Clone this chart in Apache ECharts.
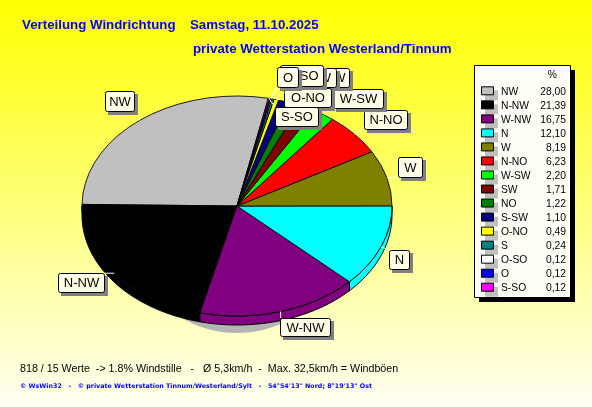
<!DOCTYPE html>
<html><head><meta charset="utf-8">
<style>html,body{margin:0;padding:0;background:#fff}#c{width:592px;height:407px}</style>
<script src="https://cdn.jsdelivr.net/npm/echarts@6/dist/echarts.min.js"></script>
</head><body><div id="c"></div>
<script>
const directions = ['NW','N-NW','W-NW','N','W','N-NO','W-SW','SW','NO','S-SW','O-NO','S','O-SO','O','S-SO'];
const shares = [28.00,21.39,16.75,12.10,8.19,6.23,2.20,1.71,1.22,1.10,0.49,0.24,0.12,0.12,0.12];
const shareLabels = ['28,00','21,39','16,75','12,10','8,19','6,23','2,20','1,71','1,22','1,10','0,49','0,24','0,12','0,12','0,12'];
const sliceColors = ['#C0C0C0','#000000','#800080','#00FFFF','#808000','#FF0000','#00FF00','#800000','#008000','#000080','#FFFF00','#008080','#FFFFFF','#0000FF','#FF00FF'];
const titleLine1 = 'Verteilung Windrichtung';
const titleDate = 'Samstag, 11.10.2025';
const titleLine2 = 'private Wetterstation Westerland/Tinnum';
const statsLine = '818 / 15 Werte  -> 1.8% Windstille   -   Ø 5,3km/h  -  Max. 32,5km/h = Windböen';
const footerLine = '© WsWin32   -   © private Wetterstation Tinnum/Westerland/Sylt   -   54°54\'13" Nord; 8°19\'13" Ost';

// layout
const CX = 237, CY = 206, RX = 155, RY = 110, DEPTH = 9, START = 78.34;
const labelBoxes = { // left, top, width, height of each callout
  'NW':[105,91,29,20],'N-NW':[58,273,46,19],'W-NW':[280,318,50,18],'N':[389,250,20,19],'W':[398,157,24,20],
  'N-NO':[364,110,43,19],'W-SW':[333,89,50,19],'SW':[320,68,29,19],'NO':[300,86,27,19],'S-SW':[291,68,45,19],
  'O-NO':[284,88,47,19],'S':[298,68,16,18],'O-SO':[280,65,43,21],'O':[277,67,21,20],'S-SO':[275,107,43,19]
};
const total = shares.reduce((a, b) => a + b, 0);
const rad = d => d * Math.PI / 180;
function sliceAngles(i) {
  let before = 0;
  for (let k = 0; k < i; k++) before += shares[k];
  return [START + before / total * 360, START + (before + shares[i]) / total * 360];
}
const edge = (deg, dy) => [CX + RX * Math.cos(rad(deg)), CY + (dy || 0) - RY * Math.sin(rad(deg))];

const LABEL_FONT = '13px "Liberation Sans"';
const LEG_FONT = '10.3px "Liberation Sans"';

function renderRim(p, api) {
  const [a0, a1] = sliceAngles(p.dataIndex);
  const lo = Math.max(a0, 180), hi = Math.min(a1, 360);
  if (hi <= lo) return null;
  const pts = [];
  for (let d = lo; d <= hi; d += 1) pts.push(edge(d));
  pts.push(edge(hi));
  pts.push(edge(hi, DEPTH));
  for (let d = hi; d >= lo; d -= 1) pts.push(edge(d, DEPTH));
  pts.push(edge(lo, DEPTH));
  return { type:'polygon', shape:{points:pts}, style:{fill:sliceColors[p.dataIndex], stroke:'#000', lineWidth:1} };
}
function renderSlice(p, api) {
  const [a0, a1] = sliceAngles(p.dataIndex);
  return { type:'sector', x:CX, y:CY, scaleY:RY/RX,
    shape:{cx:0, cy:0, r0:0, r:RX, startAngle:-rad(a0), endAngle:-rad(a1), clockwise:false},
    style:{fill:sliceColors[p.dataIndex], stroke:'#000', lineWidth:1, strokeNoScale:true} };
}
function renderCallout(p, api) {
  const i = p.dataIndex, n = directions[i], [x,y,w,h] = labelBoxes[n];
  const [a0, a1] = sliceAngles(i), m = edge((a0 + a1) / 2);
  const bx = Math.max(x, Math.min(x + w, m[0])), by = Math.max(y, Math.min(y + h, m[1]));
  return { type:'group', children:[
    { type:'line', shape:{x1:m[0], y1:m[1], x2:bx, y2:by}, style:{stroke:'#FFFFE8', lineWidth:1} },
    { type:'rect', shape:{x:x+3, y:y+3, width:w+1, height:h+1}, style:{fill:'#808080'} },
    { type:'rect', shape:{x:x+.5, y:y+.5, width:w, height:h, r:2}, style:{fill:'#FFFFE8', stroke:'#000', lineWidth:1} },
    { type:'text', style:{x:x+w/2+.5, y:y+h/2+1, text:n, align:'center', verticalAlign:'middle', font:LABEL_FONT, fill:'#000'} }
  ]};
}
function renderLegendRow(p, api) {
  const i = p.dataIndex, y = 91.3 + 14.03 * i;
  return { type:'group', children:[
    { type:'rect', shape:{x:485, y:y-1, width:13, height:10}, style:{fill:'#C0C0C0'} },
    { type:'rect', shape:{x:481.5, y:y-4.5, width:12, height:8}, style:{fill:sliceColors[i], stroke:'#000', lineWidth:1} },
    { type:'text', style:{x:501, y:y+.5, text:directions[i], align:'left', verticalAlign:'middle', font:LEG_FONT, fill:'#000'} },
    { type:'text', style:{x:566, y:y+.5, text:shareLabels[i], align:'right', verticalAlign:'middle', font:LEG_FONT, fill:'#000'} }
  ]};
}
function renderOnce(fn) { return (p, api) => p.dataIndex === 0 ? fn() : null; }

const sliceData = shares.map((v, i) => ({ name: directions[i], value: v }));
const common = { type:'custom', coordinateSystem:'none', data:sliceData, silent:true, animation:false, clip:false };
const titleStyle = { color:'#0000FF', fontFamily:'Liberation Sans', fontWeight:'bold', fontSize:13.3 };
const option = {
  animation:false,
  backgroundColor:{ type:'linear', x:0, y:0, x2:0, y2:1, colorStops:[{offset:0,color:'#FFFF00'},{offset:1,color:'#FFFFF2'}] },
  title:[
    { text:titleLine1, left:22, top:19, padding:0, textStyle:titleStyle },
    { text:titleDate, left:190, top:19, padding:0, textStyle:titleStyle },
    { text:titleLine2, left:193, top:43, padding:0, textStyle:titleStyle },
    { text:statsLine, left:20, top:364, padding:0, textStyle:{color:'#000', fontFamily:'Liberation Sans', fontWeight:'normal', fontSize:10.7} },
    { text:footerLine, left:20, top:383, padding:0, textStyle:{color:'#0000FF', fontFamily:'DejaVu Sans', fontWeight:'bold', fontSize:6.35} }
  ],
  series:[
    { ...common, z:1, renderItem:renderOnce(() => ({ type:'ellipse', shape:{cx:237, cy:222, rx:110, ry:111}, style:{fill:'#B4B4B4'} })) },
    { ...common, z:2, renderItem:renderRim },
    { ...common, z:3, renderItem:renderSlice },
    { ...common, z:4, renderItem:renderOnce(() => ({ type:'group', children:[
        { type:'rect', shape:{x:479, y:70, width:96, height:232}, style:{fill:'#000'} },
        { type:'rect', shape:{x:474.5, y:65.5, width:96, height:232}, style:{fill:'#FFFFF8', stroke:'#000', lineWidth:1} },
        { type:'text', style:{x:557, y:75, text:'%', align:'right', verticalAlign:'middle', font:LEG_FONT, fill:'#000'} }
      ]})) },
    { ...common, z:5, renderItem:renderLegendRow },
    { ...common, z:6, renderItem:renderCallout }
  ]
};
echarts.init(document.getElementById('c'), null, {renderer:'canvas'}).setOption(option);
</script></body></html>
